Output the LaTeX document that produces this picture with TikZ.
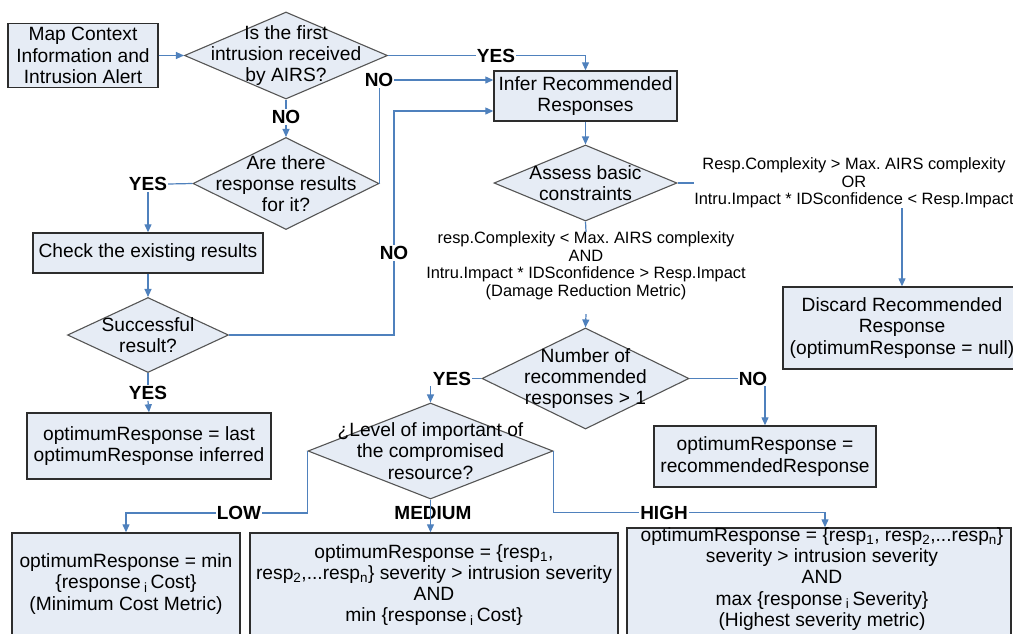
\documentclass[tikz,border=0pt]{standalone}
\usepackage{fontspec}
\setmainfont{Liberation Sans}
\usetikzlibrary{arrows.meta,calc,shapes.geometric}
\frenchspacing
\definecolor{boxfill}{RGB}{230,236,245}
\definecolor{flow}{RGB}{79,129,189}
\definecolor{frame}{RGB}{45,45,45}
\definecolor{dframe}{RGB}{85,85,85}

\tikzset{
  every node/.style={font=\fontsize{19.2}{21.3}\selectfont},
  stepbox/.style={draw=frame, line width=1.4pt, fill=boxfill, inner sep=0pt, align=center},
  decision/.style={diamond, draw=dframe, line width=1.1pt, fill=boxfill, inner sep=0pt},
  dtext/.style={align=center, inner sep=0pt},
  cond/.style={align=center, inner sep=0pt, font=\fontsize{16.4}{17.5}\selectfont},
  lab/.style={inner sep=1pt, font=\fontsize{19}{20}\selectfont\bfseries},
  flowline/.style={draw=flow, line width=1.2pt},
  arr/.style={flowline, -{Triangle[length=8pt,width=7pt]}},
}

\begin{document}
\begin{tikzpicture}[x=1pt,y=-1pt]
\path[use as bounding box, clip] (0,0) rectangle (1013,633);
\fill[white] (0,0) rectangle (1013,633);

% process steps
\node[stepbox, minimum width=150pt, minimum height=64pt] (map) at (83,55.5) {Map Context\\Information and\\Intrusion Alert};
\node[stepbox, minimum width=183pt, minimum height=50pt] (infer) at (585.5,96) {Infer Recommended\\Responses};
\node[stepbox, minimum width=230pt, minimum height=40pt] (check) at (148,253) {Check the existing results};
\node[stepbox, minimum width=244pt, minimum height=66pt] (last) at (149,446) {optimumResponse = last\\optimumResponse inferred};
\node[stepbox, minimum width=238pt, minimum height=82pt] (discard) at (902,328) {Discard Recommended\\Response\\(optimumResponse = null)};
\node[stepbox, minimum width=222pt, minimum height=61pt] (optrec) at (765,456.5) {optimumResponse =\\recommendedResponse};
\node[stepbox, minimum width=228pt, minimum height=102pt] (low) at (126,584) {optimumResponse = min\\\{response\,\textsubscript{i}\,Cost\}\\(Minimum Cost Metric)};
\node[stepbox, minimum width=368pt, minimum height=104pt] (med) at (434,585) {optimumResponse = \{resp\textsubscript{1},\\resp\textsubscript{2},...resp\textsubscript{n}\} severity > intrusion severity\\AND\\min \{response\,\textsubscript{i}\,Cost\}};
\node[stepbox, minimum width=384pt, minimum height=116pt] (high) at (819,586) {};
\node[dtext] (hightext) at (822,579) {optimumResponse = \{resp\textsubscript{1}, resp\textsubscript{2},...resp\textsubscript{n}\}\\severity > intrusion severity\\AND\\max \{response\,\textsubscript{i}\,Severity\}\\(Highest severity metric)};

% decisions
\node[decision, minimum width=203pt, minimum height=87pt] (d1) at (286,55.5) {};
\node[dtext] (d1t) at (d1) {Is the first\\intrusion received\\by AIRS?};
\node[decision, minimum width=186pt, minimum height=92pt] (d2) at (286,183.5) {};
\node[dtext] (d2t) at (d2) {Are there\\response results\\for it?};
\node[decision, minimum width=161pt, minimum height=75pt] (succ) at (148,335) {};
\node[dtext] (succt) at (succ) {Successful\\result?};
\node[decision, minimum width=183pt, minimum height=76pt] (d3) at (585.5,183) {};
\node[dtext] (d3t) at (d3) {Assess basic\\constraints};
\node[decision, minimum width=207pt, minimum height=101pt] (d4) at (585.5,378.5) {};
\node[dtext] (d4t) at (d4) {Number of\\recommended\\responses > 1};
\node[decision, minimum width=245pt, minimum height=96pt] (d5) at (430.5,451) {};
\node[dtext] (d5t) at (d5) {¿Level of important of\\the compromised\\resource?};

% constraint conditions
\node[cond] (cond1) at (854,183) {Resp.Complexity > Max. AIRS complexity\\OR\\Intru.Impact * IDSconfidence < Resp.Impact};
\node[cond] (cond2) at (586,266) {resp.Complexity < Max. AIRS complexity\\AND\\Intru.Impact * IDSconfidence > Resp.Impact\\(Damage Reduction Metric)};

% branch labels
\node[lab] (yes1) at (496,55.5) {YES};
\node[lab] (no1) at (286,117) {NO};
\node[lab] (no2) at (379,80) {NO};
\node[lab] (yes2) at (148,184) {YES};
\node[lab] (no3) at (394,253) {NO};
\node[lab] (yes3) at (148,393) {YES};
\node[lab] (yes4) at (452,378.5) {YES};
\node[lab] (no4) at (753,378.5) {NO};
\node[lab] (lowl) at (239,513) {LOW};
\node[lab] (medl) at (433,513) {MEDIUM};
\node[lab] (highl) at (664,512.5) {HIGH};

% connectors
\draw[arr] (map.east) -- (d1.west);
\draw[flowline] (d1.east) -- (yes1.west);
\draw[arr] (yes1.east) -| (infer.north);
\draw[flowline] (d1.south) -- (no1.north);
\draw[arr] (no1.south) -- (d2.north);
\draw[flowline] (d2.east) -- (d2.east |- no2.south);
\draw[arr] (no2.east) -- (no2.east -| infer.west);
\draw[flowline] (d2.west) -- (yes2.east);
\draw[arr] (yes2.south) -- (check.north);
\draw[arr] (check.south) -- (succ.north);
\draw[flowline] (succ.east) -| (no3.south);
\draw[arr] (no3.north) |- ([yshift=-15pt]infer.west);
\draw[flowline] (succ.south) -- (yes3.north);
\draw[arr] (yes3.south) -- (last.north);
\draw[arr] (infer.south) -- (d3.north);
\draw[flowline] (d3.east) -- (cond1.west);
\draw[arr] (cond1.south -| discard.north) -- (discard.north);
\draw[flowline] (d3.south) -- (cond2.north);
\draw[arr] ([yshift=-14pt]cond2.south) -- (d4.north);
\draw[flowline] (d4.west) -- (yes4.east);
\draw[arr] (yes4.south -| d5.north) -- (d5.north);
\draw[flowline] (d4.east) -- (no4.west);
\draw[arr] (no4.south -| optrec.north) -- (optrec.north);
\draw[flowline] (d5.west) |- (lowl.east);
\draw[arr] (lowl.west) -| (low.north);
\draw[arr] (d5.south) -- (d5.south |- med.north);
\draw[flowline] (d5.east) |- (highl.west);
\draw[arr] (highl.east) -| ([xshift=6pt]high.north);
\end{tikzpicture}
\end{document}
